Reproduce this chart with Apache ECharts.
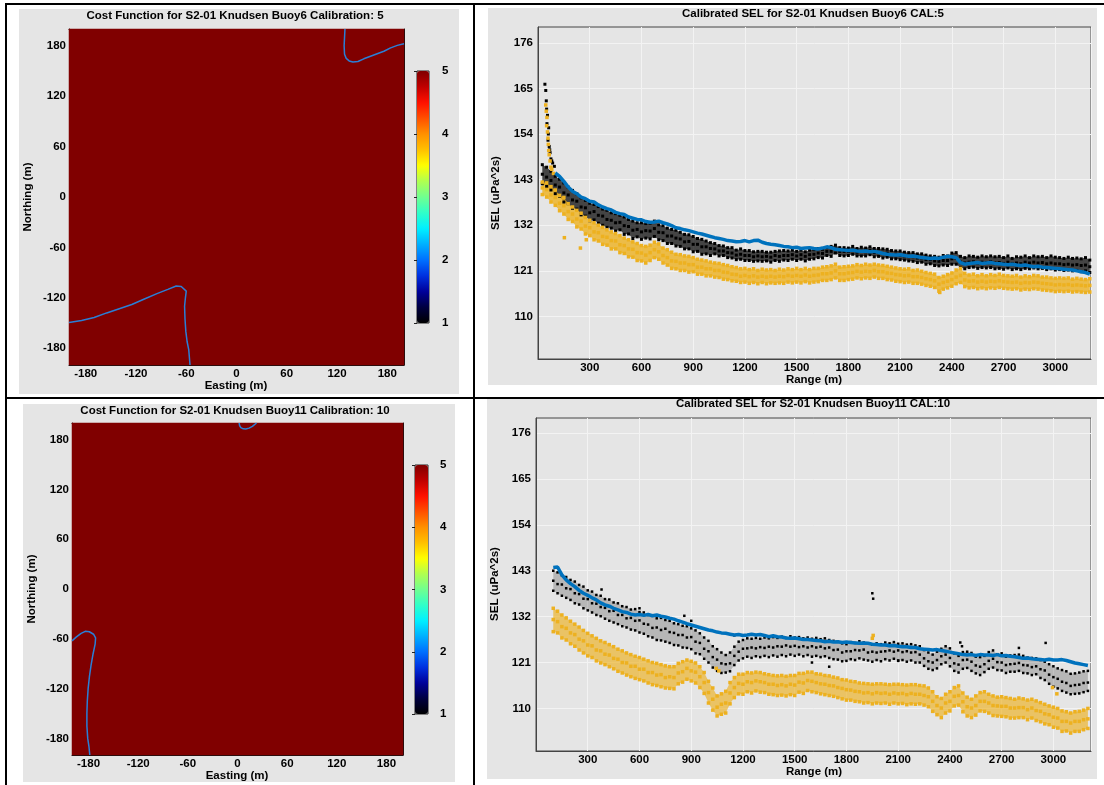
<!DOCTYPE html>
<html><head><meta charset="utf-8">
<script src="https://cdn.jsdelivr.net/npm/echarts@6/dist/echarts.min.js"></script>
<style>html,body{margin:0;padding:0;background:#fff}#c{width:1104px;height:785px}</style>
</head><body><div id="c"></div><script>
// ---------- DATA ----------
const rangeX = [25,50,75,100,125,150,175,200,
225,250,275,300,325,350,375,400,
425,450,475,500,525,550,575,600,
625,650,675,700,725,750,775,800,
825,850,875,900,925,950,975,1000,
1025,1050,1075,1100,1125,1150,1175,1200,
1225,1250,1275,1300,1325,1350,1375,1400,
1425,1450,1475,1500,1525,1550,1575,1600,
1625,1650,1675,1700,1725,1750,1775,1800,
1825,1850,1875,1900,1925,1950,1975,2000,
2025,2050,2075,2100,2125,2150,2175,2200,
2225,2250,2275,2300,2325,2350,2375,2400,
2425,2450,2475,2500,2525,2550,2575,2600,
2625,2650,2675,2700,2725,2750,2775,2800,
2825,2850,2875,2900,2925,2950,2975,3000,
3025,3050,3075,3100,3125,3150,3175,3200];

// Buoy6
const b6Blue = [null,null,null,144.6,143.8,142.6,141.2,140.2,
139.6,138.8,138.4,137.8,137.6,136.9,136.4,136.0,
135.7,135.1,134.8,134.6,134.0,133.7,133.4,133.3,
132.9,132.7,132.8,133.0,132.6,132.3,131.9,131.4,
131.2,130.9,130.7,130.4,130.1,129.9,129.6,129.3,
129.0,128.8,128.6,128.3,128.2,128.0,128.1,128.3,
128.0,128.3,128.4,127.9,127.6,127.4,127.3,127.1,
126.9,126.8,126.6,126.7,126.4,126.5,126.6,126.4,
126.3,126.5,126.8,126.6,126.2,126.1,126.0,125.9,
126.0,125.8,125.7,125.8,125.6,125.7,125.5,125.2,
125.0,124.9,124.8,124.9,124.7,124.5,124.6,124.4,
124.2,124.1,124.0,124.1,124.0,124.3,124.5,124.4,
124.2,123.0,122.6,122.8,122.9,123.0,122.8,122.9,
123.0,122.8,122.7,122.6,122.5,122.6,122.4,122.3,
122.4,122.2,122.0,122.1,121.9,121.8,121.7,121.6,
121.5,121.4,121.3,121.2,121.0,120.8,120.6,120.2];
const b6BlackMid = [144.3,143.6,142.8,141.7,141.2,139.8,139.3,138.1,
137.8,136.4,136.2,135.0,135.3,134.4,134.2,133.4,
133.2,132.6,132.7,131.9,131.7,130.8,131.0,130.4,
130.7,130.6,131.2,130.3,130.2,129.4,129.4,128.9,
128.7,128.0,128.1,127.4,127.4,126.8,126.8,126.4,
126.3,125.8,125.8,125.4,125.3,124.8,125.0,124.7,
124.7,124.4,124.6,124.4,124.5,124.3,124.7,124.5,
124.7,124.7,124.9,124.6,124.9,124.5,124.9,125.0,
125.3,125.2,125.7,125.7,126.3,125.7,125.7,125.7,
126.0,125.5,125.7,125.6,125.9,125.4,125.5,125.2,
125.3,124.9,124.9,124.7,124.6,124.4,124.4,124.1,
124.1,123.7,123.7,123.4,123.3,123.5,123.5,123.9,
124.0,123.1,122.9,123.1,123.2,122.9,123.1,123.0,
123.2,122.9,123.0,122.8,123.1,122.7,122.9,122.7,
123.1,122.9,123.1,122.9,123.0,122.7,122.9,122.7,
122.7,122.5,122.6,122.4,122.5,122.3,122.4,122.0];
const b6BlackHi = [146.6,146.0,145.0,143.8,143.1,142.2,141.2,140.4,
139.6,138.6,138.0,137.3,137.0,136.5,135.9,135.6,
135.0,134.8,134.4,134.0,133.4,133.0,132.6,132.6,
132.4,132.5,133.0,132.1,131.9,131.3,131.0,130.8,
130.3,129.8,129.7,129.3,128.8,128.6,128.2,127.8,
127.6,127.1,127.0,126.6,126.6,126.0,126.3,125.9,
125.9,125.6,125.7,125.7,125.5,125.5,125.7,125.8,
125.9,125.8,126.0,125.7,126.0,125.6,126.0,126.1,
126.4,126.2,126.6,126.9,127.2,126.6,126.6,126.5,
126.9,126.4,126.7,126.5,126.8,126.4,126.4,126.3,
126.2,125.9,125.8,125.8,125.5,125.4,125.4,125.1,
125.1,124.8,124.6,124.5,124.3,124.7,124.6,125.3,
125.4,124.5,124.2,124.6,124.5,124.3,124.6,124.4,
124.6,124.4,124.5,124.2,124.6,124.0,124.4,124.3,
124.6,124.2,124.6,124.4,124.5,124.2,124.6,124.3,
124.2,124.0,124.3,124.0,124.1,123.9,124.2,123.6];
const b6BlackLo = [142.0,141.4,140.5,139.6,139.0,137.6,137.2,136.1,
135.9,134.5,134.2,133.1,133.3,132.5,132.0,131.5,
131.3,130.6,130.9,129.8,129.9,128.8,129.2,128.6,
128.9,128.7,129.3,128.5,128.3,127.6,127.6,127.0,
126.9,126.3,126.3,125.6,125.7,125.0,125.1,124.7,
125.1,124.6,124.7,124.2,124.1,123.7,123.8,123.5,
123.5,123.3,123.4,123.3,123.4,123.1,123.5,123.3,
123.6,123.5,123.8,123.5,123.8,123.4,123.8,123.9,
124.2,124.1,124.7,124.5,125.3,124.7,124.6,124.7,
125.0,124.6,124.6,124.6,124.9,124.4,124.5,124.1,
124.3,123.9,123.9,123.7,123.6,123.4,123.3,123.0,
123.1,122.6,122.7,122.3,122.2,122.4,122.3,122.6,
122.6,121.8,121.5,121.8,121.9,121.6,121.8,121.7,
121.8,121.5,121.6,121.4,121.7,121.3,121.5,121.3,
121.6,121.5,121.7,121.5,121.6,121.3,121.5,121.2,
121.3,121.1,121.2,121.0,121.1,120.8,121.0,120.6];
const b6BlackExtra = [[40,166],[45,164.5],[48,162],[50,160],[52,156.5],[55,158.5],[58,152.5],[60,154],[62,155.5],[65,151],[68,150.2],[70,149.5],[75,148],[80,147.5],[85,147],[95,146.2]];
const b6OrangeMid = [141.0,140.6,139.3,138.7,137.3,136.7,135.3,134.7,
133.5,133.0,131.8,131.4,130.4,130.2,129.3,129.1,
128.3,128.2,127.3,127.1,126.3,126.2,125.4,125.3,
124.8,125.4,126.1,125.6,124.7,124.2,123.4,123.3,
122.9,122.9,122.5,122.5,121.9,121.9,121.5,121.5,
121.1,121.1,120.7,120.6,120.2,120.1,119.7,119.9,
119.6,119.8,119.5,119.7,119.5,119.7,119.5,119.7,
119.6,119.9,119.7,119.9,119.7,120.0,119.7,119.9,
120.0,120.3,120.3,120.5,121.0,120.3,120.3,120.5,
120.6,120.9,120.7,120.9,120.8,121.1,120.8,120.8,
120.5,120.4,120.1,120.0,119.8,119.9,119.6,119.6,
119.4,119.1,118.9,118.6,117.8,118.2,118.5,118.9,
119.5,119.9,118.8,118.5,118.6,118.3,118.5,118.3,
118.5,118.4,118.6,118.4,118.3,118.2,118.3,118.0,
118.2,118.1,118.3,118.2,118.0,117.9,117.8,117.6,
117.7,117.6,117.7,117.5,117.6,117.5,117.4,117.5];
const b6OrangeHi = [142.4,142.2,141.3,140.5,139.2,138.7,137.2,136.4,
135.6,134.9,133.9,133.2,132.6,132.0,131.5,130.9,
130.4,130.0,129.5,128.9,128.5,128.0,127.6,127.1,
126.9,127.2,127.9,127.5,126.5,126.1,125.5,125.0,
124.9,124.6,124.5,124.2,123.8,123.6,123.4,123.1,
122.9,122.8,122.5,122.3,122.0,121.8,121.5,121.6,
121.3,121.5,121.1,121.4,121.2,121.3,121.1,121.4,
121.2,121.5,121.3,121.6,121.3,121.6,121.3,121.6,
121.6,121.9,122.0,122.2,122.6,121.9,122.0,122.1,
122.2,122.5,122.3,122.6,122.4,122.6,122.4,122.3,
122.1,121.9,121.7,121.5,121.4,121.5,121.1,121.2,
120.9,120.6,120.4,120.2,119.4,119.7,120.1,120.5,
121.2,121.6,120.4,120.0,120.2,119.8,120.1,119.8,
120.1,119.9,120.2,119.9,119.8,119.7,119.9,119.5,
119.8,119.6,119.9,119.8,119.5,119.5,119.3,119.2,
119.3,119.2,119.3,119.0,119.2,119.0,118.9,119.1];
const b6OrangeLo = [139.4,138.8,137.6,136.8,135.5,134.7,133.4,132.9,
131.6,131.1,129.9,129.5,128.5,128.2,127.4,127.2,
126.3,126.3,125.4,125.2,124.4,124.3,123.5,123.4,
122.9,123.5,124.2,123.8,122.9,122.4,121.6,121.5,
121.1,121.1,120.7,120.8,120.2,120.2,119.8,119.8,
119.5,119.4,119.0,118.9,118.6,118.5,118.2,118.3,
118.0,118.2,117.9,118.2,117.9,118.1,118.0,118.1,
118.0,118.3,118.1,118.3,118.1,118.4,118.1,118.3,
118.4,118.7,118.7,118.9,119.3,118.7,118.7,118.9,
119.0,119.3,119.1,119.3,119.2,119.5,119.2,119.2,
118.9,118.8,118.5,118.4,118.2,118.3,118.0,118.0,
117.8,117.5,117.3,117.0,116.1,116.6,116.9,117.3,
117.9,118.2,117.2,116.9,117.0,116.7,116.9,116.7,
116.9,116.8,117.0,116.8,116.7,116.6,116.7,116.4,
116.6,116.5,116.7,116.6,116.4,116.3,116.2,116.0,
116.1,116.0,116.1,115.9,116.0,115.9,115.8,115.9];
const b6OrangeExtra = [[45,161],[48,159.5],[50,156],[52,158],[55,154.5],[58,153],[60,151.5],[62,150],[65,149],[70,147.5],[75,146],[80,145.5],[90,144.5],[153,129],[246,126.5],[280,128.5],[2330,115.8]];

// Buoy11
const b11Blue = [null,null,null,143.8,143.9,142.0,140.8,139.9,
139.2,138.3,137.6,137.1,136.5,136.0,135.3,134.8,
134.5,134.0,133.6,133.2,133.0,132.6,132.4,132.5,
132.3,132.5,132.2,132.4,132.1,131.9,131.6,131.4,
131.0,130.7,130.3,130.0,129.7,129.4,129.1,128.8,
128.6,128.3,128.1,128.0,127.8,127.6,127.7,127.5,
127.6,127.8,127.6,127.7,127.5,127.2,127.4,127.2,
127.1,126.9,126.8,126.9,126.7,126.5,126.5,126.4,
126.3,126.2,126.0,126.1,125.9,126.0,125.8,125.9,
125.8,125.7,125.6,125.7,125.6,125.4,125.3,125.2,
125.2,125.0,125.1,124.9,124.8,124.8,124.6,124.6,
124.3,124.2,124.1,124.0,124.1,123.9,123.7,123.5,
123.3,123.1,122.9,122.8,122.9,122.7,122.9,122.8,
122.8,122.7,122.9,122.6,122.7,122.5,122.4,122.2,
122.0,122.1,121.9,121.8,121.7,121.6,121.8,121.6,
121.6,121.7,121.5,121.2,120.9,120.7,120.5,120.3];
const b11BlackMid = [null,null,null,140.6,139.8,139.7,138.8,138.6,
137.6,137.4,136.3,136.2,135.2,135.1,134.3,134.1,
133.3,133.4,132.4,132.4,131.6,131.7,131.0,131.1,
130.3,130.1,129.3,129.4,128.8,129.1,128.3,128.1,
127.6,127.6,127.0,127.1,126.0,125.7,124.3,123.7,
122.3,121.7,120.8,120.6,120.8,122.6,123.6,124.3,
124.4,124.6,124.4,124.7,124.5,124.8,124.6,124.9,
124.8,125.1,124.8,125.0,124.7,124.9,124.6,124.9,
124.6,124.8,124.4,124.6,124.0,124.1,123.4,123.7,
123.7,124.0,123.9,124.1,123.4,123.6,123.4,123.6,
123.7,123.9,123.6,123.9,123.5,123.7,123.4,123.5,
122.9,122.0,121.3,121.0,121.6,122.5,122.9,122.1,
120.8,120.5,121.6,121.7,121.2,120.3,120.0,120.6,
121.4,121.9,121.1,121.0,120.4,120.6,120.7,120.9,
120.4,120.3,119.9,120.1,119.4,119.1,118.1,117.5,
117.1,116.4,116.1,115.4,115.6,115.7,116.1,116.2];
const b11BlackHi = [null,null,null,143.0,142.6,141.9,141.5,140.8,
140.4,139.6,139.2,138.3,138.0,137.2,137.0,136.2,
136.1,135.4,135.2,134.5,134.3,133.7,133.8,133.1,
133.0,132.4,132.2,131.6,131.7,131.2,131.0,130.4,
130.2,129.8,129.7,129.2,128.7,128.0,127.0,126.2,
124.9,124.2,123.4,122.8,123.4,124.8,126.0,126.4,
126.8,126.7,126.9,126.7,127.0,126.8,127.1,126.9,
127.2,126.9,127.3,127.0,127.1,126.8,127.0,126.7,
126.9,126.6,126.8,126.4,126.2,126.0,125.6,125.4,
125.9,125.7,126.1,125.8,125.5,125.3,125.6,125.4,
125.8,125.6,125.9,125.5,125.6,125.3,125.4,125.1,
124.9,124.0,123.4,122.9,123.6,124.3,124.9,124.4,
123.2,122.6,123.5,123.6,123.3,122.4,122.3,122.6,
123.5,123.9,123.0,123.2,122.4,122.7,122.8,122.9,
122.6,122.2,122.1,122.0,121.6,121.2,120.6,120.1,
119.6,119.2,118.9,118.3,118.4,118.6,118.9,119.0];
const b11BlackLo = [null,null,null,138.2,137.6,137.0,136.5,136.0,
135.2,134.9,134.0,133.5,133.0,132.4,132.1,131.5,
131.0,130.6,130.2,129.7,129.4,128.9,128.7,128.2,
127.9,127.3,127.0,126.4,126.3,126.0,125.7,125.2,
125.1,124.6,124.5,124.2,123.2,123.0,121.9,121.0,
119.8,119.0,118.5,118.6,118.9,120.4,121.5,122.0,
122.4,122.1,122.5,122.3,122.6,122.3,122.7,122.4,
122.8,122.5,122.9,122.6,122.9,122.5,122.8,122.4,
122.6,122.3,122.5,122.1,121.8,121.7,121.3,121.4,
121.8,121.6,122.0,121.7,121.5,121.2,121.6,121.3,
121.8,121.5,121.9,121.4,121.6,121.2,121.5,121.0,
121.0,120.2,119.5,119.2,119.6,120.6,121.0,120.1,
119.0,118.6,119.5,119.7,119.0,118.4,118.0,118.7,
119.5,119.8,119.2,119.1,118.5,118.8,118.8,119.0,
118.5,118.4,118.0,118.2,117.3,116.8,115.9,115.2,
114.8,114.2,113.8,113.4,113.5,113.6,113.9,114.2];
const b11BlackExtra = [[380,138.5],[600,134],[860,132.2],[900,131],[1150,127.5],[1600,121],[1700,120],[1950,137.6],[1955,136.3],[2100,121.5],[2460,125.8],[2470,124.9],[2800,124.5],[2955,125.7]];
const b11OrangeMid = [null,null,null,131.3,130.8,129.6,129.2,128.1,
127.7,126.6,126.2,125.2,125.0,124.0,123.8,123.0,
122.8,122.0,121.8,121.0,120.9,120.1,120.1,119.4,
119.4,118.6,118.6,118.0,118.1,117.4,117.6,117.4,
118.5,118.8,119.6,119.0,118.7,117.6,116.2,113.8,
112.2,110.3,111.0,111.3,113.7,115.0,116.0,115.8,
116.4,116.2,116.6,116.4,116.2,115.8,115.8,115.5,
115.7,115.4,115.8,115.6,116.3,116.1,116.7,116.5,
116.2,115.9,115.8,115.5,115.4,115.0,114.8,114.5,
114.4,114.1,114.0,113.7,113.8,113.5,113.8,113.6,
113.7,113.4,113.7,113.5,113.6,113.3,113.6,113.4,
113.4,113.1,112.8,111.7,110.7,110.1,111.3,111.7,
112.9,113.1,111.6,110.4,110.1,110.7,111.7,111.7,
111.3,110.7,110.6,110.5,110.5,110.1,110.1,110.2,
110.2,109.7,110.1,109.5,109.3,108.7,108.5,107.9,
107.7,106.9,106.9,106.5,106.9,106.9,107.3,107.5];
const b11OrangeHi = [null,null,null,134.0,133.3,132.4,131.7,130.9,
130.2,129.5,128.7,128.0,127.4,126.8,126.2,125.8,
125.3,124.8,124.2,123.8,123.3,122.9,122.5,122.2,
121.8,121.4,121.0,120.8,120.5,120.2,120.0,120.0,
120.8,121.2,121.6,121.3,120.9,120.0,118.6,116.5,
114.9,113.0,113.5,114.1,116.2,117.4,118.2,118.2,
118.6,118.5,118.7,118.6,118.3,118.1,117.9,117.8,
117.9,117.7,117.9,117.9,118.4,118.4,118.7,118.7,
118.3,118.2,117.9,117.8,117.5,117.3,116.9,116.8,
116.5,116.4,116.1,116.0,115.9,115.8,115.9,115.9,
115.8,115.7,115.8,115.8,115.7,115.6,115.7,115.7,
115.5,115.4,114.9,114.0,112.8,112.4,113.4,114.0,
115.0,115.4,113.7,112.7,112.2,113.0,113.8,114.0,
113.4,113.0,112.7,112.8,112.6,112.4,112.2,112.5,
112.3,112.0,112.2,111.8,111.4,111.0,110.6,110.3,
110.0,109.4,109.2,108.9,109.2,109.3,109.6,110.0];
const b11OrangeLo = [null,null,null,128.4,128.1,126.9,126.4,125.5,
124.9,124.0,123.3,122.6,122.2,121.4,120.9,120.5,
120.0,119.5,118.9,118.5,118.0,117.6,117.2,116.9,
116.6,116.1,115.7,115.5,115.2,114.9,114.8,114.7,
115.9,116.3,117.0,116.6,116.1,115.0,113.6,111.3,
109.6,108.2,108.6,108.9,111.1,112.6,113.5,113.4,
114.0,113.7,114.2,113.9,113.8,113.4,113.3,113.1,
113.2,113.0,113.3,113.1,113.9,113.6,114.3,114.0,
113.8,113.5,113.3,113.1,112.9,112.6,112.3,112.0,
112.0,111.7,111.6,111.3,111.4,111.1,111.3,111.2,
111.3,111.0,111.3,111.1,111.2,110.9,111.1,111.0,
111.1,110.8,110.4,109.3,108.5,107.8,108.9,109.4,
110.6,110.8,109.2,108.2,107.8,108.4,109.4,109.3,
108.9,108.3,108.2,108.1,108.0,107.7,107.7,107.8,
107.8,107.3,107.7,107.1,106.8,106.3,106.1,105.5,
105.3,104.5,104.6,104.1,104.5,104.5,104.9,105.2];
const b11OrangeExtra = [[1045,119.6],[1060,119.0],[1950,126.8],[1955,127.5],[2995,115.0],[3020,113.5]];

// Cost function panels (value clipped at colour-bar maximum)
const costCells6 = [[5]];
const costCells11 = [[5]];
const contour6A = [[129.5,200],[129,190],[128.5,180],[129,170],[131,165],[134.5,162],[139,160.8],[145,161.3],[152,164.5],[160,167.5],[168,170.5],[176,173.5],[184,177.5],[192,180.5],[200,182.5]];
const contour6B = [[-200,-149.5],[-185,-147],[-170,-143.5],[-155,-138],[-140,-133],[-125,-128],[-110,-121.5],[-95,-115],[-82,-110],[-72,-106],[-66,-106.5],[-60,-112],[-61,-120],[-62,-130],[-61.5,-145],[-60.5,-160],[-59,-172],[-57,-182],[-55.5,-200]];
const contour11C = [[2,200],[2.5,197],[4,194.5],[7,193],[10,192.8],[14,193.8],[18,196],[23,200]];
const contour11D = [[-200,-62.5],[-195,-58],[-189,-53.5],[-184,-51],[-179,-51.5],[-174,-54.5],[-171.5,-59],[-172,-66],[-174.5,-78],[-177,-92],[-179,-106],[-180.5,-120],[-181.5,-135],[-182,-150],[-182,-165],[-181,-180],[-179.5,-190],[-178.5,-200]];

const posTicks = [-180,-120,-60,0,60,120,180];
const selTicks = [110,121,132,143,154,165,176];
const titles = {
  cost6: 'Cost Function for S2-01 Knudsen Buoy6 Calibration: 5',
  sel6: 'Calibrated SEL for S2-01 Knudsen Buoy6 CAL:5',
  cost11: 'Cost Function for S2-01 Knudsen Buoy11 Calibration: 10',
  sel11: 'Calibrated SEL for S2-01 Knudsen Buoy11 CAL:10'
};
const jet = ['#000000','#000040','#00009a','#0030e0','#0070ff','#00b0ff','#00f0ff','#30ffc8','#70ff90','#b0ff50','#ffff00','#ffc000','#ff9000','#ff5000','#ff1000','#c00000','#800000'];

// ---------- HELPERS ----------
const FONT = "'Liberation Sans', Arial, sans-serif";
const FS = 11.5;
function pairs(xs, ys){ const o=[]; for(let i=0;i<xs.length;i++){ if(ys[i]!=null) o.push([xs[i], ys[i]]); } return o; }
function cells(m){ const o=[]; for(let r=0;r<m.length;r++) for(let c=0;c<m[r].length;c++) o.push([c, r, m[r][c]]); return o; }
function band(hi, lo, color, op, xi){
  const d=[]; for(let i=0;i<rangeX.length;i++){ if(hi[i]!=null && lo[i]!=null) d.push([rangeX[i], lo[i], hi[i]]); }
  return {type:'custom', xAxisIndex:xi, yAxisIndex:xi, data:d, encode:{x:0, y:[1,2]}, clip:true, silent:true, z:1, animation:false,
    renderItem:function(params, api){
      if(params.dataIndex !== 0) return {type:'group', children:[]};
      const pts=[];
      for(let i=0;i<d.length;i++) pts.push(api.coord([d[i][0], d[i][2]]));
      for(let i=d.length-1;i>=0;i--) pts.push(api.coord([d[i][0], d[i][1]]));
      return {type:'polygon', shape:{points:pts}, style:{fill:color, opacity:op}};
    }};
}
function dots(data, color, size, xi, z){
  return {type:'scatter', xAxisIndex:xi, yAxisIndex:xi, data:data, symbol:'rect', symbolSize:size, itemStyle:{color:color, opacity:1}, silent:true, z:z, animation:false};
}
const lbl = {fontFamily:FONT, fontWeight:'bold', fontSize:FS, color:'#000'};
function txt(s, x, y, rot){
  return {type:'text', x:x, y:y, rotation:rot||0, z:100, silent:true,
    style:{text:s, textAlign:'center', textVerticalAlign:'middle', fontFamily:FONT, fontWeight:'bold', fontSize:FS, fill:'#000'}};
}
function posX(gi, pos, labels){
  return {type:'value', gridIndex:gi, position:pos, min:-200, max:200,
    axisLine:{show:true, onZero:false, lineStyle:{color:'#111', width:1}},
    axisTick:{show:true, inside:true, length:4, customValues:posTicks, lineStyle:{color:'#111'}},
    axisLabel: labels ? Object.assign({show:true, customValues:posTicks, margin:3}, lbl) : {show:false},
    splitLine:{show:false}};
}
function selX(gi, max){
  return {type:'value', gridIndex:gi, min:0, max:max, interval:300,
    axisLine:{show:true, onZero:false, lineStyle:{color:'#444'}}, axisTick:{show:false},
    axisLabel:Object.assign({showMinLabel:false, showMaxLabel:false, margin:3, formatter:v=>String(v)}, lbl),
    splitLine:{show:true, lineStyle:{color:'#f3f3f3', width:1}}};
}
function selY(gi, min, max){
  return {type:'value', gridIndex:gi, min:min, max:max,
    axisLine:{show:true, onZero:false, lineStyle:{color:'#444'}},
    axisTick:{show:false, customValues:selTicks},
    axisLabel:Object.assign({customValues:selTicks, margin:5, formatter:v=>String(v)}, lbl),
    splitLine:{show:true, lineStyle:{color:'#f3f3f3', width:1}}};
}
function cbY(gi, margin){
  return {type:'value', gridIndex:gi, position:'right', min:1, max:5, interval:1,
    axisLine:{show:false}, axisTick:{show:true, inside:true, length:3, lineStyle:{color:'#222'}},
    axisLabel:Object.assign({margin:margin}, lbl), splitLine:{show:false}};
}
const hidCat = (gi,n) => ({type:'category', gridIndex:gi, show:false, data:n});
const hidVal = gi => ({type:'value', gridIndex:gi, show:false, min:0, max:1});

// ---------- CHART ----------
const chart = echarts.init(document.getElementById('c'), null, {renderer:'canvas'});
const GRAY = '#e5e5e5';
const option = {
  animation:false,
  backgroundColor:'#ffffff',
  grid:[
    {left:69, top:29, width:335, height:336, show:false},
    {left:69, top:29, width:335, height:336, show:false},
    {left:417, top:71, width:12, height:252, show:true, borderColor:'#222', borderWidth:1},
    {left:538, top:27, width:553, height:332, show:true, borderColor:'#444', borderWidth:1},
    {left:72, top:423, width:331, height:332, show:false},
    {left:72, top:423, width:331, height:332, show:false},
    {left:415, top:465, width:13, height:249, show:true, borderColor:'#222', borderWidth:1},
    {left:536, top:418, width:555, height:333, show:true, borderColor:'#444', borderWidth:1}
  ],
  xAxis:[
    hidCat(0,['c0']), posX(1,'bottom',true), posX(1,'top',false), hidVal(2), selX(3,3207),
    hidCat(4,['c0']), posX(5,'bottom',true), posX(5,'top',false), hidVal(6), selX(7,3218)
  ],
  yAxis:[
    hidCat(0,['r0']), posX(1,'left',true), posX(1,'right',false), cbY(2,13), selY(3,99.75,179.8),
    hidCat(4,['r0']), posX(5,'left',true), posX(5,'right',false), cbY(6,12), selY(7,99.8,179.6)
  ],
  visualMap:[
    {type:'continuous', seriesIndex:0, min:1, max:5, left:417, top:71, itemWidth:12, itemHeight:252, padding:0,
     calculable:false, text:null, showLabel:false, hoverLink:false, inRange:{color:jet}},
    {type:'continuous', seriesIndex:3, min:1, max:5, left:415, top:465, itemWidth:13, itemHeight:249, padding:0,
     calculable:false, text:null, showLabel:false, hoverLink:false, inRange:{color:jet}}
  ],
  series:[],
  graphic:[]
};
const S = option.series;
const CL = {color:'#2a7fd6', width:1.5};
S.push({type:'heatmap', xAxisIndex:0, yAxisIndex:0, data:cells(costCells6), silent:true, z:1});
S.push({type:'line', xAxisIndex:1, yAxisIndex:1, data:contour6A, symbol:'none', lineStyle:CL, z:3, silent:true});
S.push({type:'line', xAxisIndex:1, yAxisIndex:1, data:contour6B, symbol:'none', lineStyle:CL, z:3, silent:true});
S.push({type:'heatmap', xAxisIndex:5, yAxisIndex:5, data:cells(costCells11), silent:true, z:1});
S.push({type:'line', xAxisIndex:6, yAxisIndex:6, data:contour11C, symbol:'none', lineStyle:CL, z:3, silent:true});
S.push({type:'line', xAxisIndex:6, yAxisIndex:6, data:contour11D, symbol:'none', lineStyle:CL, z:3, silent:true});
S.push({type:'scatter', xAxisIndex:3, yAxisIndex:3, data:[]});
S.push({type:'scatter', xAxisIndex:8, yAxisIndex:8, data:[]});

const BLK='#000000', BLU='#0072bd', ORG='#edb120';
// Buoy6 SEL
S.push(band(b6BlackHi, b6BlackLo, BLK, 0.7, 4));
S.push(dots(pairs(rangeX,b6BlackHi), BLK, 3, 4, 2), dots(pairs(rangeX,b6BlackMid), BLK, 3, 4, 2), dots(pairs(rangeX,b6BlackLo), BLK, 3, 4, 2), dots(b6BlackExtra, BLK, 3, 4, 2));
S.push(band(b6OrangeHi, b6OrangeLo, ORG, 0.8, 4));
S.push(dots(pairs(rangeX,b6OrangeHi), ORG, 3.5, 4, 3), dots(pairs(rangeX,b6OrangeMid), ORG, 3.5, 4, 3), dots(pairs(rangeX,b6OrangeLo), ORG, 3.5, 4, 3), dots(b6OrangeExtra, ORG, 3.5, 4, 3));
S.push({type:'line', xAxisIndex:4, yAxisIndex:4, data:pairs(rangeX,b6Blue), symbol:'none', lineStyle:{color:BLU, width:3.5}, z:4, silent:true});
// Buoy11 SEL
S.push(band(b11BlackHi, b11BlackLo, BLK, 0.2, 9));
S.push(dots(pairs(rangeX,b11BlackHi), BLK, 2.5, 9, 2), dots(pairs(rangeX,b11BlackMid), BLK, 2.5, 9, 2), dots(pairs(rangeX,b11BlackLo), BLK, 2.5, 9, 2), dots(b11BlackExtra, BLK, 2.5, 9, 2));
S.push(band(b11OrangeHi, b11OrangeLo, ORG, 0.65, 9));
S.push(dots(pairs(rangeX,b11OrangeHi), ORG, 3.5, 9, 3), dots(pairs(rangeX,b11OrangeMid), ORG, 3.5, 9, 3), dots(pairs(rangeX,b11OrangeLo), ORG, 3.5, 9, 3), dots(b11OrangeExtra, ORG, 3.5, 9, 3));
S.push({type:'line', xAxisIndex:9, yAxisIndex:9, data:pairs(rangeX,b11Blue), symbol:'none', lineStyle:{color:BLU, width:3.5}, z:4, silent:true});

// ---------- GRAPHIC: panels, frame lines, texts ----------
const G = option.graphic;
const rect = (x,y,w,h) => ({type:'rect', shape:{x:x,y:y,width:w,height:h}, style:{fill:GRAY}, z:-10, silent:true});
G.push(rect(19,9,440,385), rect(488,8,609,377), rect(23,404,432,378), rect(487,398,610,381));
const ln = (x1,y1,x2,y2) => ({type:'line', shape:{x1:x1,y1:y1,x2:x2,y2:y2}, style:{stroke:'#000', lineWidth:2}, z:50, silent:true});
G.push(ln(5,4,1104,4), ln(6,3,6,785), ln(474,3,474,785), ln(5,398,1104,398));
G.push(txt(titles.cost6, 235, 16), txt('Easting (m)', 236, 386), txt('Northing (m)', 28, 197, Math.PI/2));
G.push(txt(titles.cost11, 235, 411), txt('Easting (m)', 237, 776), txt('Northing (m)', 32, 589, Math.PI/2));
G.push(txt(titles.sel6, 813, 14), txt('Range (m)', 814, 380), txt('SEL (uPa^2s)', 496, 193, Math.PI/2));
G.push(txt(titles.sel11, 813, 404), txt('Range (m)', 814, 772), txt('SEL (uPa^2s)', 495, 584, Math.PI/2));

chart.setOption(option);
</script></body></html>
